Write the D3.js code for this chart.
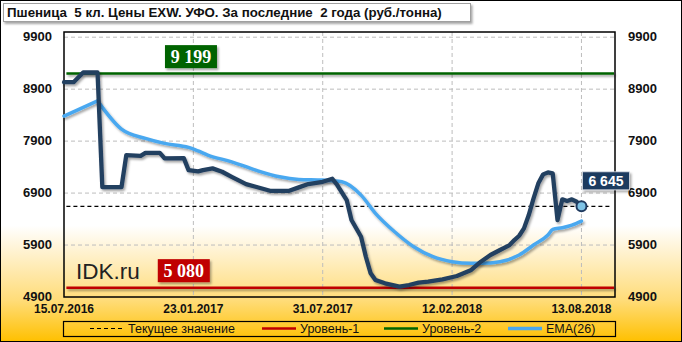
<!DOCTYPE html>
<html lang="ru">
<head>
<meta charset="UTF-8">
<title>Пшеница 5 кл. Цены EXW. УФО</title>
<script src="https://d3js.org/d3.v7.min.js"></script>
<style>
  body { margin: 0; }
  svg { font-family: "Liberation Sans", Arial, sans-serif; display: block; }
  .tick-y { font-size: 13px; font-weight: bold; fill: #111; }
  .tick-x { font-size: 12px; font-weight: bold; fill: #111; }
  .legend text { font-size: 12.5px; fill: #111; }
  .title { white-space: pre; }
</style>
</head>
<body>
<div id="chart"></div>
<script>
// weekly index -> price (руб./тонна)
const priceWeek = [0, 2, 4, 7, 8, 12, 13, 16, 17, 20, 21, 25, 26, 28, 29, 31, 33, 35, 38, 40, 43, 47, 49, 51, 54, 56, 57, 59, 60, 62, 63, 64, 65, 67, 70, 72, 74, 76, 79, 82, 83, 85, 87, 89, 91, 93, 94, 95, 96, 97, 98, 99, 100, 101, 102, 103, 104, 105, 106, 107, 108];
const priceVal = [9035, 9035, 9221, 9221, 7015, 7015, 7631, 7617, 7675, 7675, 7567, 7573, 7342, 7317, 7342, 7375, 7310, 7213, 7073, 7021, 6944, 6944, 7010, 7073, 7117, 7175, 7060, 6765, 6381, 6060, 5675, 5356, 5227, 5163, 5098, 5131, 5175, 5194, 5240, 5304, 5342, 5420, 5579, 5708, 5804, 5900, 5996, 6079, 6221, 6477, 6798, 7087, 7260, 7298, 7279, 6381, 6780, 6746, 6779, 6733, 6645];

const emaWeek = [0, 7, 12, 17, 21, 26, 28, 30, 35, 40, 45, 49, 54, 58, 62, 65, 69, 73, 77, 81, 85, 87, 91, 95, 98, 101, 102, 104, 106, 108];
const emaVal = [8381, 8675, 8131, 7952, 7856, 7779, 7710, 7631, 7502, 7342, 7213, 7163, 7150, 7117, 6861, 6510, 6156, 5867, 5675, 5579, 5548, 5548, 5579, 5708, 5900, 6092, 6200, 6233, 6285, 6362];

const xTickWeek = [0, 27, 54, 81, 108];
const xTickLabels = ["15.07.2016", "23.01.2017", "31.07.2017", "12.02.2018", "13.08.2018"];
const yTicks = [4900, 5900, 6900, 7900, 8900, 9900];

const level1 = 5080;
const level2 = 9199;
const current = 6645;

const legendNames = ["Текущее значение", "Уровень-1", "Уровень-2", "EMA(26)"];

const W = 682, H = 342;
const plotL = 64, plotR = 615, plotT = 32, plotB = 297;

const svg = d3.select("#chart").append("svg")
    .attr("width", W)
    .attr("height", H);

const defs = svg.append("defs");
const grad = defs.append("linearGradient")
    .attr("id", "bg").attr("x1", 0).attr("y1", 0).attr("x2", 0).attr("y2", 1);
grad.append("stop").attr("offset", "0.66").attr("stop-color", "#ffffff");
grad.append("stop").attr("offset", "0.75").attr("stop-color", "#fff0c8");
grad.append("stop").attr("offset", "0.88").attr("stop-color", "#ffdc78");
grad.append("stop").attr("offset", "1").attr("stop-color", "#ffc000");

// user-space filter region so horizontal lines (zero-height bbox) still render
const shadow = defs.append("filter").attr("id", "shadow")
    .attr("filterUnits", "userSpaceOnUse")
    .attr("x", 0).attr("y", 0).attr("width", W).attr("height", H);
shadow.append("feDropShadow")
    .attr("dx", 1.5).attr("dy", 2).attr("stdDeviation", 1.2)
    .attr("flood-color", "#000").attr("flood-opacity", 0.35);

svg.append("rect")
    .attr("x", 0.5).attr("y", 0.5)
    .attr("width", W - 1).attr("height", H - 1)
    .attr("fill", "url(#bg)")
    .attr("stroke", "#000");

const x = d3.scaleLinear().domain([0, 115]).range([plotL, plotR]);
const y = d3.scaleLinear().domain([4900, 10000]).range([plotB, plotT]);

// grid
svg.append("g").selectAll("line")
    .data(yTicks.filter(d => d > 4900))
    .enter().append("line")
    .attr("x1", plotL).attr("x2", plotR)
    .attr("y1", d => y(d)).attr("y2", d => y(d))
    .attr("stroke", "#bdbdbd").attr("stroke-dasharray", "4,3");

svg.append("g").selectAll("line")
    .data(xTickWeek.slice(1))
    .enter().append("line")
    .attr("x1", d => x(d)).attr("x2", d => x(d))
    .attr("y1", plotT).attr("y2", plotB)
    .attr("stroke", "#bdbdbd").attr("stroke-dasharray", "4,3");

// plot frame
svg.append("rect")
    .attr("x", plotL).attr("y", plotT)
    .attr("width", plotR - plotL).attr("height", plotB - plotT)
    .attr("fill", "none").attr("stroke", "#000").attr("stroke-width", 1.5);

// axes labels
svg.append("g").selectAll("text")
    .data(yTicks)
    .enter().append("text")
    .attr("class", "tick-y")
    .attr("x", 52).attr("y", d => y(d))
    .attr("dy", "0.33em")
    .attr("text-anchor", "end")
    .text(d => d);

svg.append("g").selectAll("text")
    .data(yTicks)
    .enter().append("text")
    .attr("class", "tick-y")
    .attr("x", 628).attr("y", d => y(d))
    .attr("dy", "0.33em")
    .text(d => d);

svg.append("g").selectAll("text")
    .data(xTickWeek)
    .enter().append("text")
    .attr("class", "tick-x")
    .attr("x", d => x(d)).attr("y", 313)
    .attr("text-anchor", "middle")
    .text((d, i) => xTickLabels[i]);

// levels
svg.append("line")
    .attr("x1", x(0.5)).attr("x2", plotR - 1)
    .attr("y1", y(level2)).attr("y2", y(level2))
    .attr("stroke", "#006400").attr("stroke-width", 2.5)
    .attr("filter", "url(#shadow)");

svg.append("line")
    .attr("x1", x(0.5)).attr("x2", plotR - 1)
    .attr("y1", y(level1)).attr("y2", y(level1))
    .attr("stroke", "#c00000").attr("stroke-width", 2.5)
    .attr("filter", "url(#shadow)");

svg.append("line")
    .attr("x1", x(0.5)).attr("x2", plotR - 4)
    .attr("y1", y(current)).attr("y2", y(current))
    .attr("stroke", "#000").attr("stroke-width", 1.2)
    .attr("stroke-dasharray", "4,3");

// watermark
svg.append("text")
    .attr("x", 76).attr("y", 279)
    .style("font-size", "22.5px")
    .attr("fill", "#222")
    .text("IDK.ru");

// level boxes
const fmt = v => d3.format(",")(v).replace(",", " ");

function levelBox(xc, value, color) {
    const g = svg.append("g");
    const yc = y(value) - 17;
    g.append("rect")
        .attr("x", xc - 26).attr("y", yc - 11.5)
        .attr("width", 52).attr("height", 23)
        .attr("fill", color)
        .attr("filter", "url(#shadow)");
    g.append("text")
        .attr("x", xc).attr("y", yc)
        .attr("dy", "0.36em")
        .attr("text-anchor", "middle")
        .attr("fill", "#fff")
        .style("font-family", "'Liberation Serif', 'Times New Roman', serif")
        .style("font-weight", "bold")
        .style("font-size", "18px")
        .text(fmt(value));
}
levelBox(x(26.5), level2, "#006400");
levelBox(x(25), level1, "#c00000");

// series
const line = d3.line()
    .x(d => x(d[0]))
    .y(d => y(d[1]));

const ema = emaWeek.map((w, i) => [w, emaVal[i]]);
// straight run-up to the first peak, smooth afterwards
const emaPath = d3.line().x(d => x(d[0])).y(d => y(d[1]))(ema.slice(0, 2)) +
    d3.line().x(d => x(d[0])).y(d => y(d[1])).curve(d3.curveMonotoneX)(ema.slice(1)).replace(/^M/, "L");

svg.append("path")
    .attr("d", emaPath)
    .attr("fill", "none")
    .attr("stroke", "#4aa8f0").attr("stroke-width", 3.5)
    .attr("stroke-linejoin", "round").attr("stroke-linecap", "round")
    .attr("filter", "url(#shadow)");

svg.append("path")
    .datum(priceWeek.map((w, i) => [w, priceVal[i]]))
    .attr("d", line)
    .attr("fill", "none")
    .attr("stroke", "#243f60").attr("stroke-width", 4.3)
    .attr("stroke-linejoin", "round").attr("stroke-linecap", "round")
    .attr("filter", "url(#shadow)");

// last value marker and label
const lastW = priceWeek[priceWeek.length - 1];
const lastV = priceVal[priceVal.length - 1];
svg.append("circle")
    .attr("cx", x(lastW)).attr("cy", y(lastV))
    .attr("r", 5)
    .attr("fill", "#7ec3e6")
    .attr("stroke", "#1f3a5f").attr("stroke-width", 2);

svg.append("rect")
    .attr("x", x(lastW) + 1).attr("y", y(lastV) - 34.5)
    .attr("width", 47).attr("height", 18)
    .attr("fill", "#1f3a5f")
    .attr("stroke", "#d8dde4").attr("stroke-width", 0.8)
    .attr("filter", "url(#shadow)");
svg.append("text")
    .attr("x", x(lastW) + 24.5).attr("y", y(lastV) - 25.5)
    .attr("dy", "0.36em")
    .attr("text-anchor", "middle")
    .attr("fill", "#fff")
    .style("font-size", "14px").style("font-weight", "bold")
    .text(fmt(lastV));

// title
svg.append("rect")
    .attr("x", 3.5).attr("y", 3.5)
    .attr("width", 467).attr("height", 18)
    .attr("fill", "#fff")
    .attr("stroke", "#a0a0a0")
    .attr("filter", "url(#shadow)");
svg.append("text")
    .attr("class", "title")
    .attr("x", 7).attr("y", 17)
    .style("font-size", "13.3px").style("font-weight", "bold")
    .attr("fill", "#111")
    .text("Пшеница  5 кл. Цены EXW. УФО. За последние  2 года (руб./тонна)");

// legend
const legend = svg.append("g").attr("class", "legend");
legend.append("rect")
    .attr("x", 63.5).attr("y", 321.5)
    .attr("width", 552).attr("height", 15)
    .attr("fill", "none").attr("stroke", "#000").attr("stroke-width", 1.2);

const legendX = [90, 262, 384, 508];
const legendStroke = ["#000", "#c00000", "#006400", "#4aa8f0"];
const legendWidth = [1.2, 2.5, 2.5, 3.5];
const legendDash = ["4,3", null, null, null];

const item = legend.selectAll(".item")
    .data(legendNames)
    .enter().append("g")
    .attr("class", "item");
item.append("line")
    .attr("x1", (d, i) => legendX[i]).attr("x2", (d, i) => legendX[i] + 34)
    .attr("y1", 328.5).attr("y2", 328.5)
    .attr("stroke", (d, i) => legendStroke[i])
    .attr("stroke-width", (d, i) => legendWidth[i])
    .attr("stroke-dasharray", (d, i) => legendDash[i]);
item.append("text")
    .attr("x", (d, i) => legendX[i] + 38).attr("y", 328.5)
    .attr("dy", "0.36em")
    .text(d => d);
</script>
</body>
</html>
